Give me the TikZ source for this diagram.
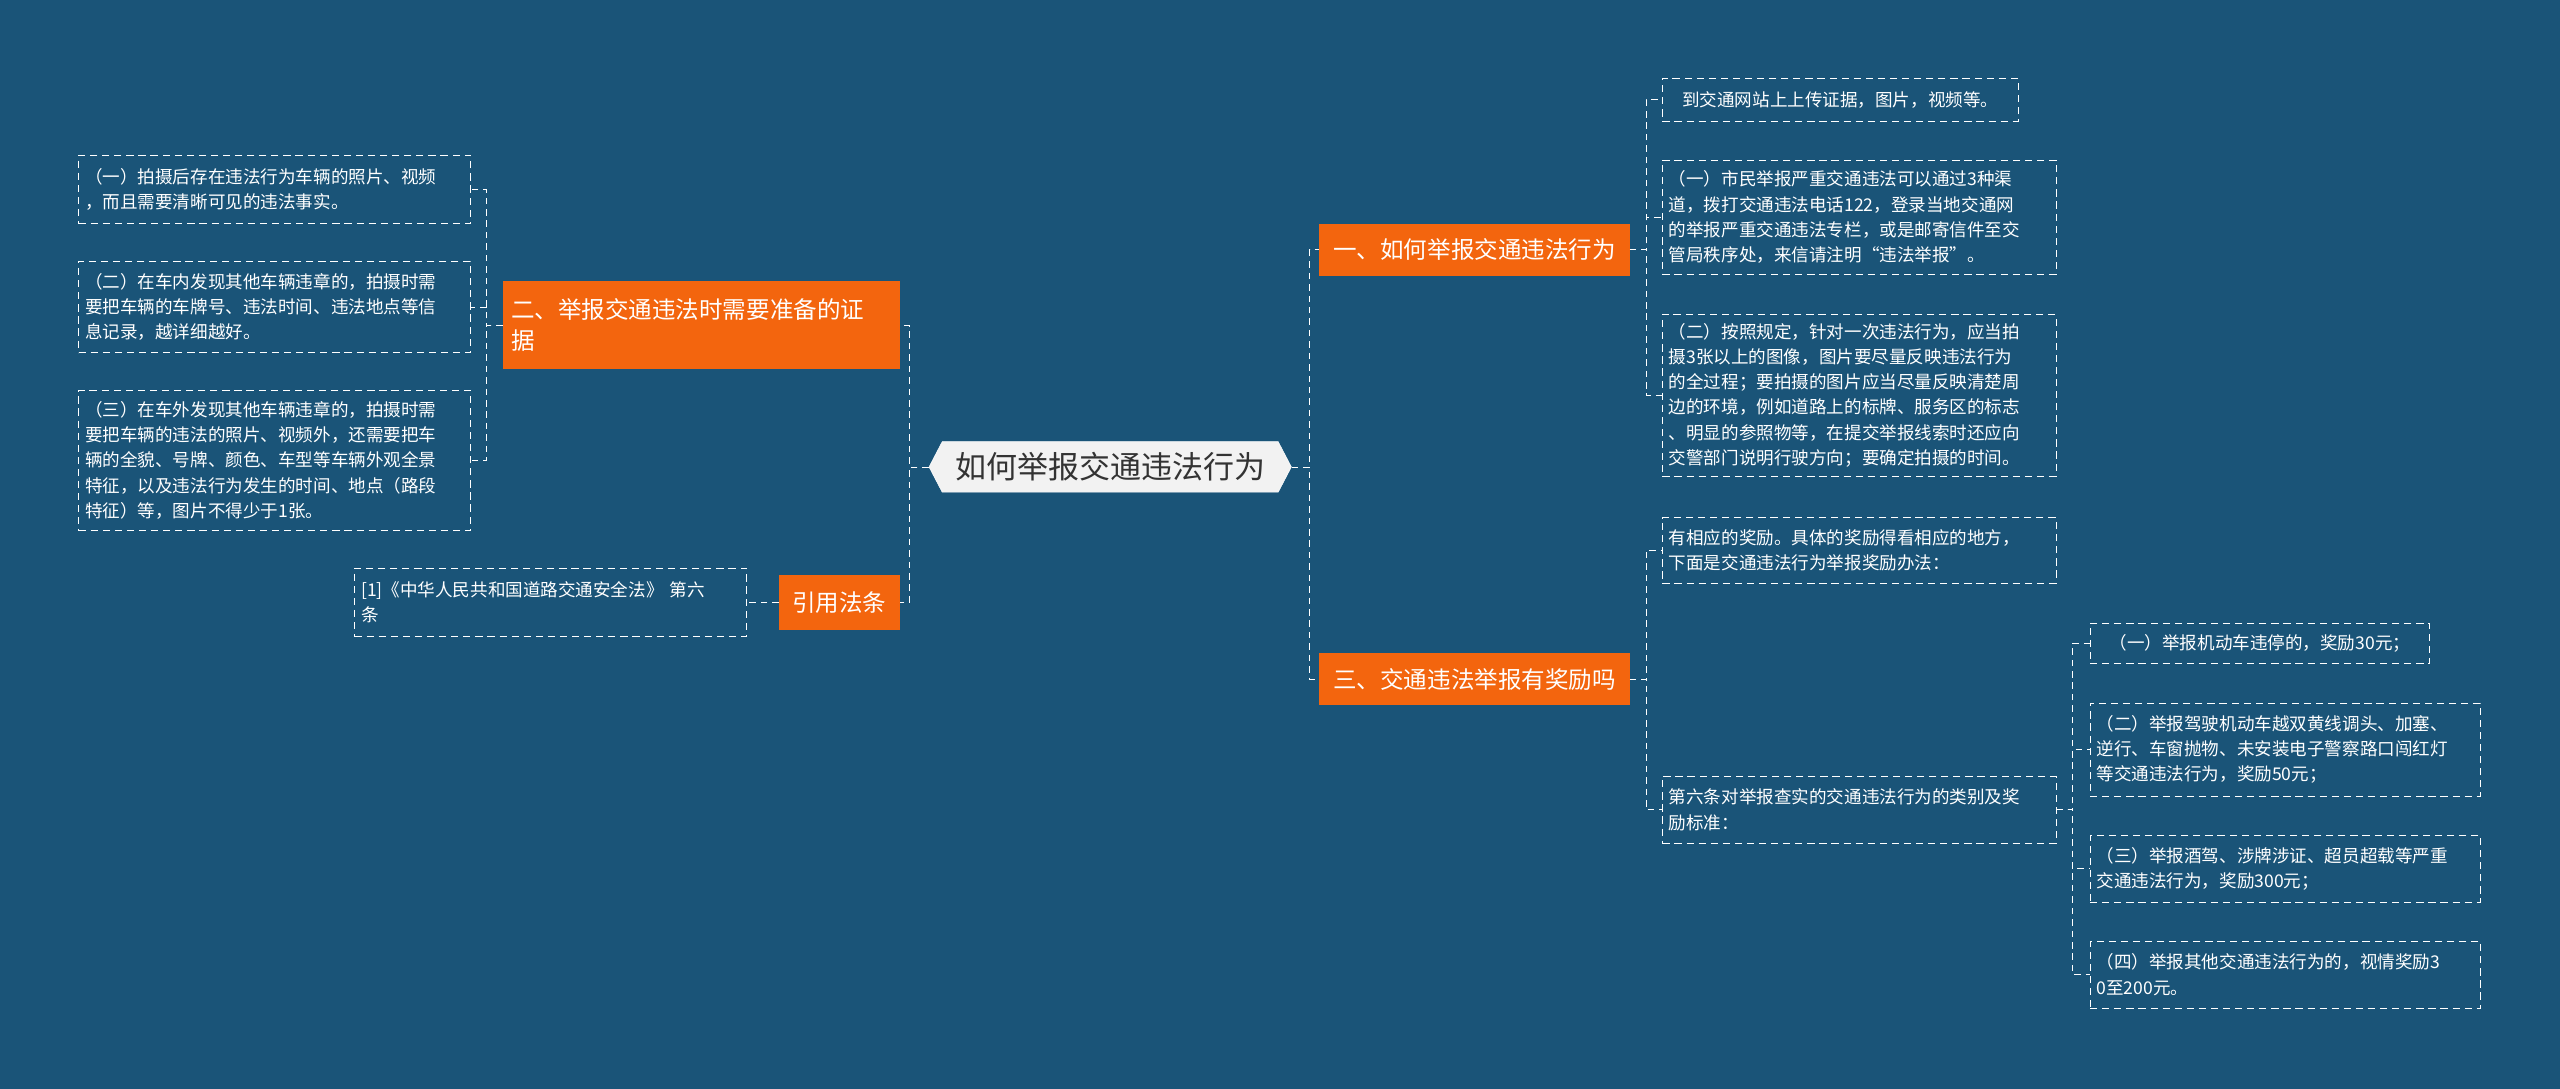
\documentclass[tikz,border=0pt]{standalone}
\usepackage{fontspec}
\setmainfont{Noto Sans CJK SC}
\usetikzlibrary{shapes.symbols, positioning}
\definecolor{bgblue}{RGB}{26,84,120}
\definecolor{hotorange}{RGB}{243,101,14}
\definecolor{centerfill}{RGB}{242,242,242}

\begin{document}
\begin{tikzpicture}[x=0.5mm, y=-0.5mm,
    root/.style={signal, signal to=west and east, signal pointer angle=125, fill=centerfill, draw=white, text=black!80, font=\fontsize{27}{32}\selectfont, minimum height=15.5mm, minimum width=106mm, inner xsep=4mm},
    topic/.style={rectangle, fill=hotorange, text=white, font=\fontsize{20.5}{27}\selectfont, align=left, inner xsep=2.5mm, inner ysep=2mm, anchor=west},
    leaf/.style={rectangle, draw=white, dash pattern=on 2.2mm off 1.5mm, line width=0.5pt, text=white, font=\fontsize{15.3}{22}\selectfont, align=left, inner xsep=2mm, inner ysep=2mm, anchor=west},
    link/.style={draw=white, line width=0.6pt, dash pattern=on 2mm off 1.5mm}
]
    \fill[bgblue] (0,0) rectangle (1568,667);

    \node[root] (root) at (680,286) {如何举报交通违法行为};

    \node[topic, minimum width=95mm, minimum height=16mm] (how) at (808,153) {一、如何举报交通违法行为};
    \node[topic, minimum width=95mm, minimum height=16mm] (reward) at (808,416) {三、交通违法举报有奖励吗};
    \node[topic, text width=116.5mm, minimum height=27mm] (prep) at (308,199) {二、举报交通违法时需要准备的证\\据};
    \node[topic, minimum width=37mm, minimum height=17mm] (law) at (477,369) {引用法条};

    % right, first branch
    \node[leaf, minimum width=109mm, minimum height=13mm] (web) at (1018,61) {到交通网站上上传证据，图片，视频等。};
    \node[leaf, text width=116.5mm, minimum height=35mm] (three) at (1018,133) {（一）市民举报严重交通违法可以通过3种渠\\道，拨打交通违法电话122，登录当地交通网\\的举报严重交通违法专栏，或是邮寄信件至交\\管局秩序处，来信请注明“违法举报”。};
    \node[leaf, text width=116.5mm, minimum height=49.5mm] (photo) at (1018,242) {（二）按照规定，针对一次违法行为，应当拍\\摄3张以上的图像，图片要尽量反映违法行为\\的全过程；要拍摄的图片应当尽量反映清楚周\\边的环境，例如道路上的标牌、服务区的标志\\、明显的参照物等，在提交举报线索时还应向\\交警部门说明行驶方向；要确定拍摄的时间。};

    % right, second branch
    \node[leaf, text width=116.5mm, minimum height=20mm] (yes) at (1018,337) {有相应的奖励。具体的奖励得看相应的地方，\\下面是交通违法行为举报奖励办法：};
    \node[leaf, text width=116.5mm, minimum height=20.5mm] (rule) at (1018,496) {第六条对举报查实的交通违法行为的类别及奖\\励标准：};
    \node[leaf, minimum width=104mm, minimum height=12.5mm] (r30) at (1280,394) {（一）举报机动车违停的，奖励30元；};
    \node[leaf, text width=115.5mm, minimum height=28.5mm] (r50) at (1280,459) {（二）举报驾驶机动车越双黄线调头、加塞、\\逆行、车窗抛物、未安装电子警察路口闯红灯\\等交通违法行为，奖励50元；};
    \node[leaf, text width=115.5mm, minimum height=20.5mm] (r300) at (1280,532) {（三）举报酒驾、涉牌涉证、超员超载等严重\\交通违法行为，奖励300元；};
    \node[leaf, text width=115.5mm, minimum height=20.5mm] (r200) at (1280,597) {（四）举报其他交通违法行为的，视情奖励3\\0至200元。};

    % left branches
    \node[leaf, text width=116mm, minimum height=21mm] (pic) at (48,116) {（一）拍摄后存在违法行为车辆的照片、视频\\，而且需要清晰可见的违法事实。};
    \node[leaf, text width=116mm, minimum height=28mm] (inside) at (48,188) {（二）在车内发现其他车辆违章的，拍摄时需\\要把车辆的车牌号、违法时间、违法地点等信\\息记录，越详细越好。};
    \node[leaf, text width=116mm, minimum height=43mm] (outside) at (48,282) {（三）在车外发现其他车辆违章的，拍摄时需\\要把车辆的违法的照片、视频外，还需要把车\\辆的全貌、号牌、颜色、车型等车辆外观全景\\特征，以及违法行为发生的时间、地点（路段\\特征）等，图片不得少于1张。};
    \node[leaf, text width=116mm, minimum height=21mm] (act) at (217,369) {[1]《中华人民共和国道路交通安全法》 第六\\条};

    \draw[link] (root.east) -- ++(11,0) |- (how.west);
    \draw[link] (root.east) -- ++(11,0) |- (reward.west);
    \draw[link] (root.west) -- ++(-12,0) |- (prep.east);
    \draw[link] (root.west) -- ++(-12,0) |- (law.east);

    \foreach \n in {web, three, photo}
        \draw[link] (how.east) -- ++(10,0) |- (\n.west);
    \foreach \n in {yes, rule}
        \draw[link] (reward.east) -- ++(10,0) |- (\n.west);
    \foreach \n in {r30, r50, r300, r200}
        \draw[link] (rule.east) -- ++(10,0) |- (\n.west);
    \foreach \n in {pic, inside, outside}
        \draw[link] (prep.west) -- ++(-10,0) |- (\n.east);
    \draw[link] (law.west) -- (act.east);
\end{tikzpicture}
\end{document}
